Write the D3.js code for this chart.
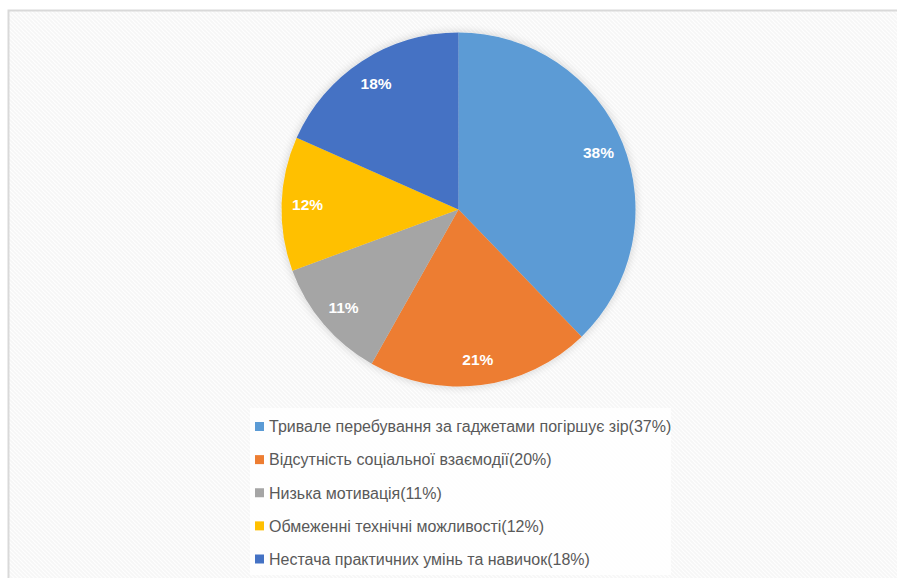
<!DOCTYPE html>
<html>
<head>
<meta charset="utf-8">
<script src="https://cdn.jsdelivr.net/npm/d3@7"></script>
<style>
  html, body { margin: 0; padding: 0; background: #ffffff; }
  svg { display: block; }
</style>
</head>
<body>
<svg id="chart" width="897" height="578"></svg>
<script>
// ---- data ----
const categories = [
  "Тривале перебування за гаджетами погіршує зір(37%)",
  "Відсутність соціальної взаємодії(20%)",
  "Низька мотивація(11%)",
  "Обмеженні технічні можливості(12%)",
  "Нестача практичних умінь та навичок(18%)"
];
const values = [37, 20, 11, 12, 18];
const sliceLabels = ["38%", "21%", "11%", "12%", "18%"];
const colors = ["#5b9bd5", "#ed7d31", "#a5a5a5", "#ffc000", "#4472c4"];

// ---- layout ----
const W = 897, H = 578;
const cx = 458.5, cy = 209.5, R = 177, labelR = 151;

const svg = d3.select("#chart");
const defs = svg.append("defs");

// diagonal hatched background
const pat = defs.append("pattern")
  .attr("id", "hatch").attr("patternUnits", "userSpaceOnUse")
  .attr("width", 4).attr("height", 4);
pat.append("rect").attr("width", 4).attr("height", 4).attr("fill", "#f6f6f6");
pat.append("path").attr("d", "M-1,-1 L5,5 M-1,3 L1,5 M3,-1 L5,1")
  .attr("stroke", "#ffffff").attr("stroke-width", 1.2);

const shadow = defs.append("filter").attr("id", "shadow")
  .attr("x", "-20%").attr("y", "-20%").attr("width", "140%").attr("height", "140%");
shadow.append("feGaussianBlur").attr("in", "SourceAlpha").attr("stdDeviation", 5).attr("result", "b");
shadow.append("feComponentTransfer").attr("in", "b").attr("result", "b2")
  .append("feFuncA").attr("type", "linear").attr("slope", 0.18);
const merge = shadow.append("feMerge");
merge.append("feMergeNode").attr("in", "b2");
merge.append("feMergeNode").attr("in", "SourceGraphic");

// chart area
svg.append("rect").attr("x", 8.5).attr("y", 10.5).attr("width", W).attr("height", H)
  .attr("fill", "url(#hatch)").attr("stroke", "#d9d9d9").attr("stroke-width", 2);

// pie
const pie = d3.pie().value(d => d).sort(null);
const arcs = pie(values);
const arc = d3.arc().innerRadius(0).outerRadius(R);
const labelArc = d3.arc().innerRadius(labelR).outerRadius(labelR);

const g = svg.append("g").attr("transform", `translate(${cx},${cy})`);
const slices = g.append("g").attr("filter", "url(#shadow)");
slices.selectAll("path").data(arcs).enter().append("path")
  .attr("d", arc)
  .attr("fill", (d, i) => colors[i]);

g.selectAll("text.pl").data(arcs).enter().append("text")
  .attr("class", "pl")
  .attr("transform", d => `translate(${labelArc.centroid(d)})`)
  .attr("text-anchor", "middle").attr("dy", "0.36em")
  .attr("font-family", "Liberation Sans, Arial, sans-serif")
  .attr("font-weight", "bold").attr("font-size", 15.5)
  .attr("fill", "#ffffff")
  .text((d, i) => sliceLabels[i]);

// legend
const lgX = 250, lgY = 408, lgW = 421, lgH = 167;
svg.append("rect").attr("x", lgX).attr("y", lgY).attr("width", lgW).attr("height", lgH)
  .attr("fill", "#ffffff").attr("opacity", 0.85);

const ly = d3.scalePoint().domain(categories).range([426.5, 559]);
const lg = svg.append("g");
const items = lg.selectAll("g").data(categories).enter().append("g")
  .attr("transform", d => `translate(${lgX + 5},${ly(d)})`);
items.append("rect").attr("x", 0).attr("y", -4.5).attr("width", 9).attr("height", 9)
  .attr("fill", (d, i) => colors[i]);
items.append("text").attr("x", 14).attr("dy", "0.36em")
  .attr("font-family", "Liberation Sans, Arial, sans-serif")
  .attr("font-size", 16).attr("fill", "#595959")
  .text(d => d);
</script>
</body>
</html>
